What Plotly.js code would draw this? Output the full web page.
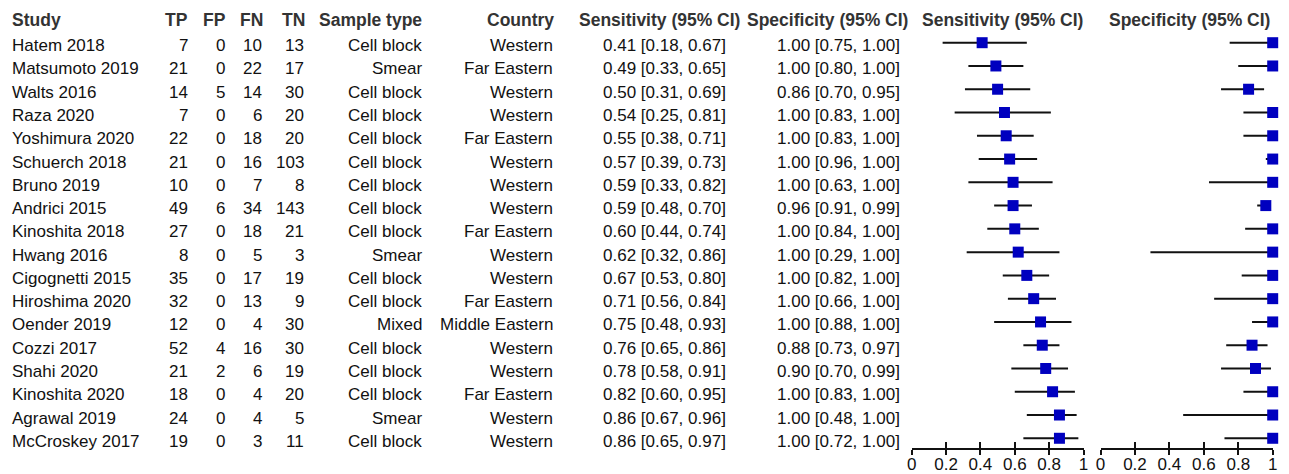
<!DOCTYPE html>
<html>
<head>
<meta charset="utf-8">
<script src="https://cdn.plot.ly/plotly-3.0.1.min.js"></script>
<style>html,body{margin:0;padding:0;background:#fff;}#chart{width:1289px;height:474px;}</style>
</head>
<body>
<div id="chart"></div>
<script>
// ---- data ----
const studies = ["Hatem 2018","Matsumoto 2019","Walts 2016","Raza 2020","Yoshimura 2020","Schuerch 2018","Bruno 2019","Andrici 2015","Kinoshita 2018","Hwang 2016","Cigognetti 2015","Hiroshima 2020","Oender 2019","Cozzi 2017","Shahi 2020","Kinoshita 2020","Agrawal 2019","McCroskey 2017"];
const TP = [7,21,14,7,22,21,10,49,27,8,35,32,12,52,21,18,24,19];
const FP = [0,0,5,0,0,0,0,6,0,0,0,0,0,4,2,0,0,0];
const FN = [10,22,14,6,18,16,7,34,18,5,17,13,4,16,6,4,4,3];
const TN = [13,17,30,20,20,103,8,143,21,3,19,9,30,30,19,20,5,11];
const sampleType = ["Cell block","Smear","Cell block","Cell block","Cell block","Cell block","Cell block","Cell block","Cell block","Smear","Cell block","Cell block","Mixed","Cell block","Cell block","Cell block","Smear","Cell block"];
const country = ["Western","Far Eastern","Western","Western","Far Eastern","Western","Western","Western","Far Eastern","Western","Western","Far Eastern","Middle Eastern","Western","Western","Far Eastern","Western","Western"];
const sens   = [0.41,0.49,0.50,0.54,0.55,0.57,0.59,0.59,0.60,0.62,0.67,0.71,0.75,0.76,0.78,0.82,0.86,0.86];
const sensLo = [0.18,0.33,0.31,0.25,0.38,0.39,0.33,0.48,0.44,0.32,0.53,0.56,0.48,0.65,0.58,0.60,0.67,0.65];
const sensHi = [0.67,0.65,0.69,0.81,0.71,0.73,0.82,0.70,0.74,0.86,0.80,0.84,0.93,0.86,0.91,0.95,0.96,0.97];
const spec   = [1.00,1.00,0.86,1.00,1.00,1.00,1.00,0.96,1.00,1.00,1.00,1.00,1.00,0.88,0.90,1.00,1.00,1.00];
const specLo = [0.75,0.80,0.70,0.83,0.83,0.96,0.63,0.91,0.84,0.29,0.82,0.66,0.88,0.73,0.70,0.83,0.48,0.72];
const specHi = [1.00,1.00,0.95,1.00,1.00,1.00,1.00,0.99,1.00,1.00,1.00,1.00,1.00,0.97,0.99,1.00,1.00,1.00];
const headers = ["Study","TP","FP","FN","TN","Sample type","Country","Sensitivity (95% CI)","Specificity (95% CI)","Sensitivity (95% CI)","Specificity (95% CI)"];
const tickVals = [0,0.2,0.4,0.6,0.8,1];
const tickText = ["0","0.2","0.4","0.6","0.8","1"];

// ---- layout helpers ----
const W = 1289, H = 474;
const px = v => v / W;
const py = v => 1 - v / H;
const FONT = '"Liberation Sans", Arial, Helvetica, sans-serif';
const rows = studies.map((_, i) => i);
const fmt = (v, lo, hi) => v.toFixed(2) + " [" + lo.toFixed(2) + ", " + hi.toFixed(2) + "]";

const annotations = [];
// header row
const hdrPos = [[10,'left'],[190,'right'],[227.5,'right'],[265,'right'],[307,'right'],[424,'right'],[556,'right'],[659,'center'],[827,'center'],[1002,'center'],[1189.5,'center']];
headers.forEach((h, k) => {
  annotations.push({text: '<b>' + h + '</b>', xref: 'paper', yref: 'paper', x: px(hdrPos[k][0]), y: py(20),
    xanchor: hdrPos[k][1], yanchor: 'middle', showarrow: false, font: {family: FONT, size: 17.5, color: '#333'}});
});
// body columns
const cols = [
  {vals: studies, x: 10, a: 'left'},
  {vals: TP, x: 190, a: 'right'},
  {vals: FP, x: 227, a: 'right'},
  {vals: FN, x: 263.5, a: 'right'},
  {vals: TN, x: 306, a: 'right'},
  {vals: sampleType, x: 423.5, a: 'right'},
  {vals: country, x: 555, a: 'right'},
  {vals: sens.map((v, i) => fmt(v, sensLo[i], sensHi[i])), x: 727.5, a: 'right'},
  {vals: spec.map((v, i) => fmt(v, specLo[i], specHi[i])), x: 902, a: 'right'}
];
cols.forEach(c => {
  c.vals.forEach((v, i) => {
    annotations.push({text: String(v), xref: 'paper', yref: 'y', x: px(c.x), y: i, yshift: -3,
      xanchor: c.a, yanchor: 'middle', showarrow: false, font: {family: FONT, size: 17, color: '#111'}});
  });
});

const markerStyle = {symbol: 'square', size: 11, color: '#0000BF'};
const errStyle = {type: 'data', symmetric: false, width: 0, thickness: 2, color: '#111'};

const traces = [
  {type: 'scatter', mode: 'markers', x: sens, y: rows, xaxis: 'x', yaxis: 'y', cliponaxis: false,
   marker: markerStyle, hoverinfo: 'skip',
   error_x: Object.assign({}, errStyle, {array: sensHi.map((h, i) => h - sens[i]), arrayminus: sensLo.map((l, i) => sens[i] - l)})},
  {type: 'scatter', mode: 'markers', x: spec, y: rows, xaxis: 'x2', yaxis: 'y', cliponaxis: false,
   marker: markerStyle, hoverinfo: 'skip',
   error_x: Object.assign({}, errStyle, {array: specHi.map((h, i) => h - spec[i]), arrayminus: specLo.map((l, i) => spec[i] - l)})}
];

const axPos = py(449);
function mainAxis(d0, d1) {
  return {domain: [px(d0), px(d1)], range: [0, 1], anchor: 'free', position: axPos,
    showgrid: false, zeroline: false, showline: true, linecolor: '#111', linewidth: 2,
    ticks: 'inside', ticklen: 6, tickwidth: 2, tickcolor: '#111',
    tickmode: 'array', tickvals: tickVals, ticktext: tickText,
    tickfont: {family: FONT, size: 17, color: '#111'}, fixedrange: true};
}
function overAxis(over, d0, d1) {
  return {overlaying: over, domain: [px(d0), px(d1)], range: [0, 1], anchor: 'free', position: axPos,
    showgrid: false, zeroline: false, showline: false, showticklabels: false,
    ticks: 'outside', ticklen: 5, tickwidth: 2, tickcolor: '#111',
    tickmode: 'array', tickvals: tickVals, fixedrange: true};
}
// invisible traces so overlay axes are drawn
traces.push({type: 'scatter', mode: 'markers', x: [], y: [], xaxis: 'x3', yaxis: 'y', hoverinfo: 'skip', showlegend: false});
traces.push({type: 'scatter', mode: 'markers', x: [], y: [], xaxis: 'x4', yaxis: 'y', hoverinfo: 'skip', showlegend: false});

const layout = {
  width: W, height: H,
  margin: {l: 0, r: 0, t: 0, b: 0, pad: 0},
  paper_bgcolor: '#fff', plot_bgcolor: 'rgba(0,0,0,0)',
  showlegend: false,
  font: {family: FONT, size: 17, color: '#111'},
  xaxis: mainAxis(911.7, 1083.5),
  xaxis2: mainAxis(1100.5, 1272.7),
  xaxis3: overAxis('x', 911.7, 1083.5),
  xaxis4: overAxis('x2', 1100.5, 1272.7),
  yaxis: {domain: [0, 1], range: [18.535, -1.835], visible: false, showgrid: false, zeroline: false, fixedrange: true},
  annotations: annotations
};

Plotly.newPlot('chart', traces, layout, {staticPlot: true, displayModeBar: false});
</script>
</body>
</html>
